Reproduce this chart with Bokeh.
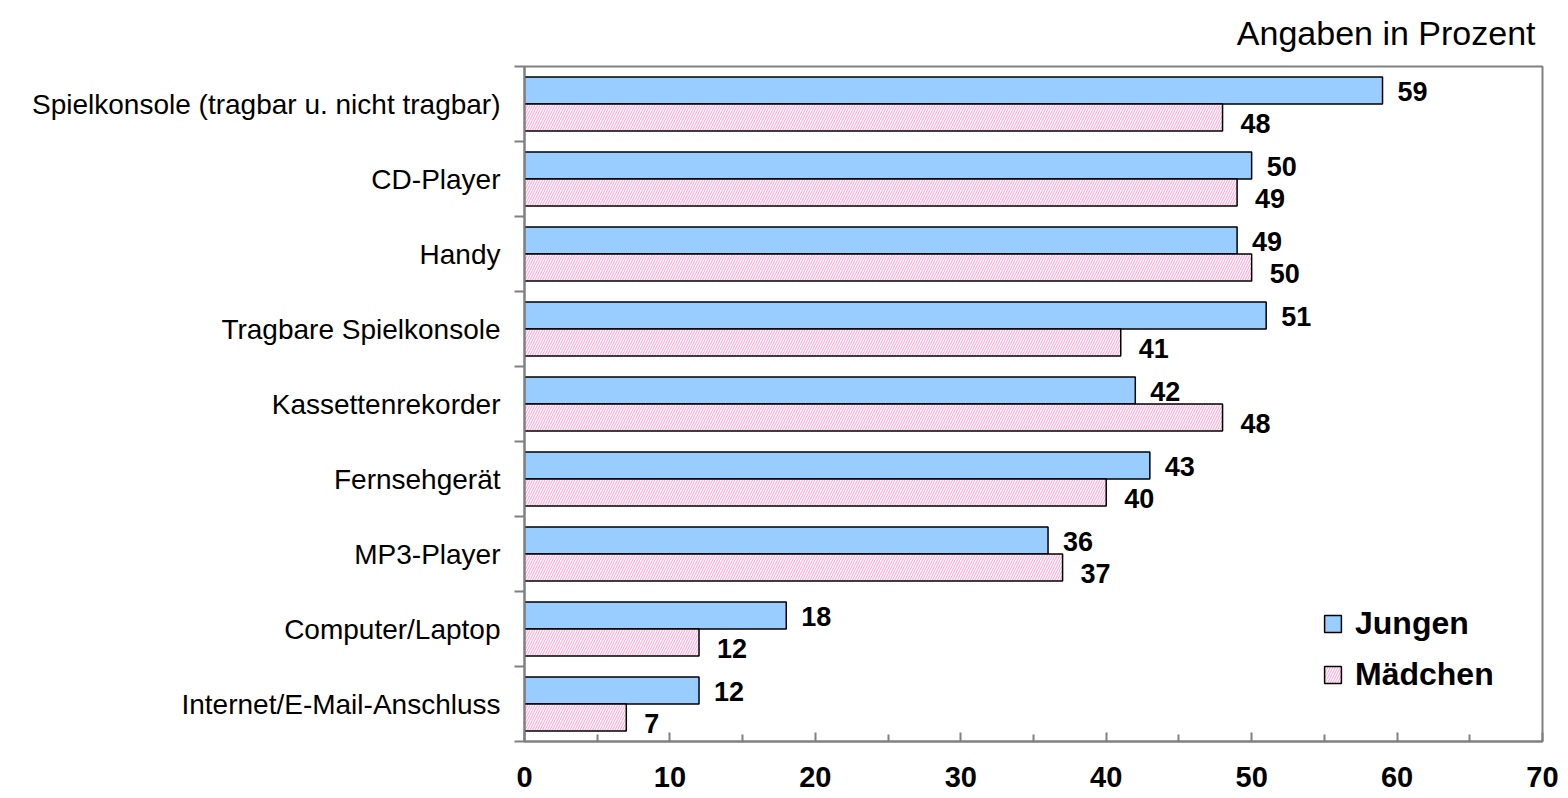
from bokeh.plotting import figure
from bokeh.models import Range1d, FixedTicker, ColumnDataSource, Legend, LegendItem
from bokeh.core.properties import value
from bokeh.embed import file_html
from bokeh.resources import INLINE

categories = ["Spielkonsole (tragbar u. nicht tragbar)", "CD-Player", "Handy",
              "Tragbare Spielkonsole", "Kassettenrekorder", "Fernsehgerät",
              "MP3-Player", "Computer/Laptop", "Internet/E-Mail-Anschluss"]
jungen = [59, 50, 49, 51, 42, 43, 36, 18, 12]
maedchen = [48, 49, 50, 41, 48, 40, 37, 12, 7]
x_ticks = [0, 10, 20, 30, 40, 50, 60, 70]
unit_note = "Angaben in Prozent"

n = len(categories)
centers = [n - i - 0.5 for i in range(n)]
off = 0.18
hgt = 0.36

FONT = "Liberation Sans"

p = figure(width=1566, height=796, output_backend="svg", toolbar_location=None,
           x_range=Range1d(0, 70), y_range=Range1d(0, n),
           min_border_left=524, min_border_right=24, min_border_top=66, min_border_bottom=55)

p.grid.visible = False
p.outline_line_color = "#808080"
p.outline_line_width = 2

src_j = ColumnDataSource(dict(y=[c + off for c in centers], x=jungen, lbl=[str(v) for v in jungen]))
src_m = ColumnDataSource(dict(y=[c - off for c in centers], x=maedchen, lbl=[str(v) for v in maedchen]))

rj = p.hbar(y="y", right="x", left=0, height=hgt, source=src_j,
            fill_color="#99CCFF", line_color="black", line_width=1.5)
rm = p.hbar(y="y", right="x", left=0, height=hgt, source=src_m,
            fill_color="white", line_color="black", line_width=1.5,
            hatch_pattern="right_diagonal_line", hatch_color="#FFB0D8",
            hatch_scale=5, hatch_weight=1.2)

p.text(x="x", y="y", text="lbl", source=src_j, x_offset=15, y_offset=1,
       text_font=value(FONT), text_font_style="bold", text_font_size="27px",
       text_baseline="middle", text_align="left", text_color="black")
p.text(x="x", y="y", text="lbl", source=src_m, x_offset=18, y_offset=6,
       text_font=value(FONT), text_font_style="bold", text_font_size="27px",
       text_baseline="middle", text_align="left", text_color="black")

# x axis
xa = p.xaxis[0]
xa.ticker = FixedTicker(ticks=x_ticks, minor_ticks=[t + 5 for t in x_ticks[:-1]])
xa.axis_line_color = "#808080"
xa.axis_line_width = 2
xa.major_tick_line_color = "#808080"
xa.major_tick_line_width = 2
xa.major_tick_in = 9
xa.major_tick_out = 0
xa.minor_tick_line_color = "#808080"
xa.minor_tick_line_width = 2
xa.minor_tick_in = 7
xa.minor_tick_out = 0
xa.major_label_standoff = 25
xa.major_label_text_font = FONT
xa.major_label_text_font_style = "bold"
xa.major_label_text_font_size = "29px"
xa.major_label_text_color = "black"

# y axis
ya = p.yaxis[0]
ya.ticker = FixedTicker(ticks=centers, minor_ticks=[float(i) for i in range(n + 1)])
ya.major_label_overrides = {c: lab for c, lab in zip(centers, categories)}
ya.axis_line_color = "#808080"
ya.axis_line_width = 2
ya.major_tick_line_color = None
ya.minor_tick_line_color = "#808080"
ya.minor_tick_line_width = 2
ya.minor_tick_out = 10
ya.minor_tick_in = 0
ya.major_label_standoff = 14
ya.major_label_text_font = FONT
ya.major_label_text_font_size = "28px"
ya.major_label_text_color = "black"

# title (unit note)
p.title.text = unit_note
p.title.align = "right"
p.title.offset = 7
p.title.vertical_align = "top"
p.title.text_font = FONT
p.title.text_font_style = "normal"
p.title.text_font_size = "34px"
p.title.text_color = "black"
p.title.standoff = 25

legend = Legend(items=[LegendItem(label="Jungen", renderers=[rj]),
                       LegendItem(label="Mädchen", renderers=[rm])],
                location=(798, 48))
legend.border_line_color = None
legend.background_fill_alpha = 0
legend.label_text_font = FONT
legend.label_text_font_style = "bold"
legend.label_text_font_size = "32px"
legend.label_text_color = "black"
legend.glyph_width = 21
legend.glyph_height = 21
legend.spacing = 14
legend.padding = 0
legend.label_standoff = 12
p.add_layout(legend)

open("out.html", "w").write(file_html(p, INLINE))
